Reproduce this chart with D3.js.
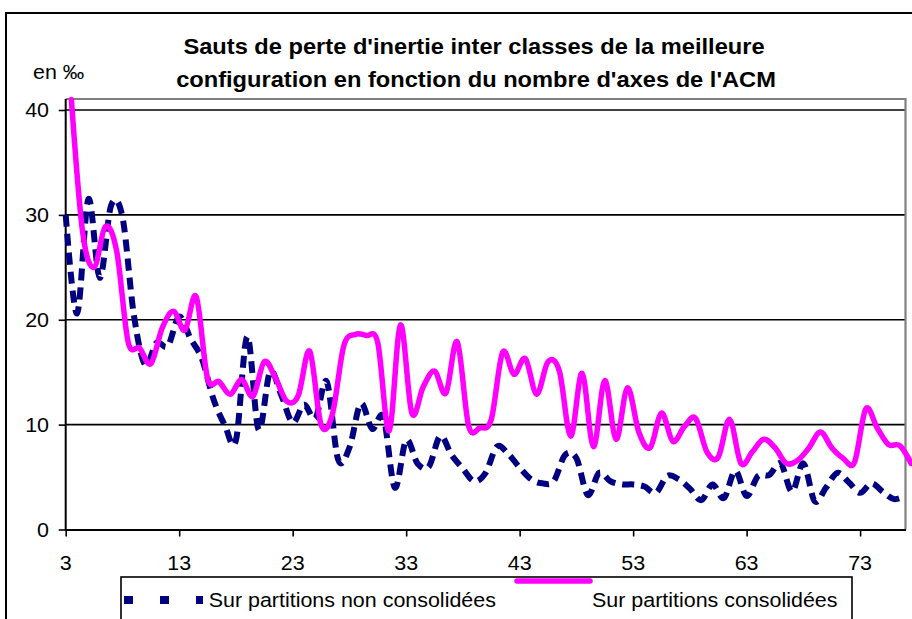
<!DOCTYPE html>
<html>
<head>
<meta charset="utf-8">
<script src="https://cdn.jsdelivr.net/npm/d3@7"></script>
<style>
  body { margin: 0; background: #fff; }
  svg { display: block; }
  text { font-family: "Liberation Sans", Arial, sans-serif; fill: #000; }
</style>
</head>
<body>
<div id="chart"></div>
<script>
// number of ACM axes (categories)
var categories = [3, 4, 5, 6, 7, 8, 9, 10, 11, 12, 13, 14, 15, 16, 17, 18, 19, 20, 21, 22,
  23, 24, 25, 26, 27, 28, 29, 30, 31, 32, 33, 34, 35, 36, 37, 38, 39, 40, 41, 42,
  43, 44, 45, 46, 47, 48, 49, 50, 51, 52, 53, 54, 55, 56, 57, 58, 59, 60, 61, 62,
  63, 64, 65, 66, 67, 68, 69, 70, 71, 72, 73, 74, 75, 76, 77];

// en pour mille
var nonConsolidees = [30.0, 20.6, 31.5, 24.0, 30.9, 29.8, 20.5, 15.7, 17.8, 17.5,
  20.3, 18.2, 16.3, 12.5, 10.0, 8.5, 18.4, 9.5, 15.0, 12.8,
  10.2, 11.9, 10.6, 14.1, 6.7, 7.8, 12.0, 9.6, 10.7, 4.0,
  8.5, 6.3, 6.0, 8.9, 7.1, 5.8, 4.6, 5.4, 7.9, 7.2,
  5.9, 4.8, 4.4, 4.6, 7.1, 6.8, 3.3, 5.4, 4.6, 4.3,
  4.3, 4.1, 3.5, 5.1, 4.8, 3.9, 2.8, 4.3, 3.0, 5.6,
  3.2, 5.1, 5.2, 6.3, 3.6, 6.3, 2.7, 4.0, 5.4, 4.5,
  3.5, 4.4, 3.6, 2.9, 3.2];

var consolidees = [41.0, 28.3, 25.0, 28.9, 26.5, 17.9, 17.3, 15.8, 19.2, 20.8,
  19.0, 22.2, 14.4, 14.1, 12.9, 14.3, 12.7, 16.0, 14.4, 12.2,
  12.8, 17.0, 10.0, 11.0, 17.5, 18.6, 18.5, 17.8, 9.4, 19.5,
  11.1, 13.6, 15.1, 13.0, 17.9, 9.9, 9.7, 10.5, 16.9, 14.8,
  16.3, 12.9, 16.0, 15.1, 8.9, 14.9, 7.9, 14.2, 8.6, 13.5,
  9.3, 7.8, 11.1, 8.4, 9.8, 10.6, 7.4, 6.9, 10.5, 6.3,
  7.4, 8.6, 7.8, 6.3, 6.6, 7.8, 9.3, 7.8, 6.8, 6.4,
  11.5, 9.7, 8.1, 8.0, 6.3];

var xTickLabels = [3, 13, 23, 33, 43, 53, 63, 73];
var yTickValues = [0, 10, 20, 30, 40];
var seriesNames = ["Sur partitions non consolidées", "Sur partitions consolidées"];

var width = 912, height = 619;
var plotLeft = 65.7, plotRight = 905.5, plotTop = 99, plotBottom = 529.5;
var sx = 1.1; // text of the original is a bit wide

var svg = d3.select("#chart").append("svg")
  .attr("width", width)
  .attr("height", height);

// chart frame (runs off the picture on the right and bottom)
svg.append("rect")
  .attr("x", 6).attr("y", 13)
  .attr("width", width + 20).attr("height", height + 20)
  .attr("fill", "#fff").attr("stroke", "#000").attr("stroke-width", 2);

var x = d3.scalePoint().domain(categories).range([plotLeft, plotRight]);
var y = d3.scaleLinear().domain([0, 40]).range([plotBottom, 110]);

function label(g, txt, tx, ty, opts) {
  opts = opts || {};
  return g.append("text")
    .attr("transform", "translate(" + tx + "," + ty + ") scale(" + sx + ",1)")
    .attr("text-anchor", opts.anchor || "start")
    .style("font-size", (opts.size || 19.5) + "px")
    .style("font-weight", opts.bold ? "bold" : "normal")
    .text(txt);
}

// gridlines
svg.append("g").selectAll("line")
  .data(yTickValues.filter(function (d) { return d > 0; }))
  .enter().append("line")
  .attr("x1", plotLeft).attr("x2", plotRight)
  .attr("y1", function (d) { return y(d); })
  .attr("y2", function (d) { return y(d); })
  .attr("stroke", "#000").attr("stroke-width", 1.6);

// plot area border (top / right are grey)
svg.append("path")
  .attr("d", "M" + plotLeft + "," + plotTop + "H" + plotRight + "V" + plotBottom)
  .attr("fill", "none").attr("stroke", "#808080").attr("stroke-width", 2.2);

// y axis
var yAxis = svg.append("g")
  .attr("transform", "translate(" + plotLeft + ",0)")
  .call(d3.axisLeft(y).tickValues(yTickValues).tickSize(7).tickSizeOuter(0).tickFormat(""));
yAxis.select(".domain").remove();
yAxis.selectAll(".tick line").attr("stroke", "#000").attr("stroke-width", 1.6);
svg.append("line")
  .attr("x1", plotLeft).attr("x2", plotLeft).attr("y1", plotTop).attr("y2", plotBottom + 1)
  .attr("stroke", "#000").attr("stroke-width", 2);
yTickValues.forEach(function (v) {
  label(svg, v, 49, y(v) + 7, { anchor: "end" });
});

// x axis
var xAxis = svg.append("g")
  .attr("transform", "translate(0," + plotBottom + ")")
  .call(d3.axisBottom(x).tickValues(xTickLabels).tickSize(7).tickSizeOuter(0).tickFormat(""));
xAxis.select(".domain").attr("stroke", "#000").attr("stroke-width", 2);
xAxis.selectAll(".tick line").attr("stroke", "#000").attr("stroke-width", 1.6);
xTickLabels.forEach(function (c) {
  label(svg, c, x(c), 570, { anchor: "middle" });
});

// series
var half = x.step() / 2;
var lineNon = d3.line()
  .x(function (d, i) { return x(categories[i]); })
  .y(function (d) { return y(d); })
  .curve(d3.curveCatmullRom.alpha(0));
var lineCons = d3.line()
  .x(function (d, i) { return x(categories[i]) + half; })
  .y(function (d) { return y(d); })
  .curve(d3.curveCatmullRom.alpha(0));

svg.append("path")
  .datum(nonConsolidees)
  .attr("d", lineNon)
  .attr("fill", "none")
  .attr("stroke", "#000080")
  .attr("stroke-width", 6)
  .attr("stroke-dasharray", "12,7");

svg.append("path")
  .datum(consolidees)
  .attr("d", lineCons)
  .attr("fill", "none")
  .attr("stroke", "#ff00ff")
  .attr("stroke-width", 5.5)
  .attr("stroke-linejoin", "round")
  .attr("stroke-linecap", "round");

// titles
label(svg, "Sauts de perte d'inertie inter classes de la meilleure", 474, 54, { anchor: "middle", size: 21.5, bold: true });
label(svg, "configuration en fonction du nombre d'axes de l'ACM", 476, 87, { anchor: "middle", size: 21.5, bold: true });
label(svg, "en ‰", 33, 79);

// legend
var legend = svg.append("g");
legend.append("rect")
  .attr("x", 121).attr("y", 577).attr("width", 731).attr("height", 60)
  .attr("fill", "#fff").attr("stroke", "#000").attr("stroke-width", 1.6);
legend.append("line")
  .attr("x1", 124).attr("x2", 203).attr("y1", 600).attr("y2", 600)
  .attr("stroke", "#000080").attr("stroke-width", 8).attr("stroke-dasharray", "9,27");
label(legend, seriesNames[0], 208.7, 607);
legend.append("line")
  .attr("x1", 517).attr("x2", 590).attr("y1", 581).attr("y2", 581)
  .attr("stroke", "#ff00ff").attr("stroke-width", 5.5).attr("stroke-linecap", "round");
label(legend, seriesNames[1], 592, 607);
</script>
</body>
</html>
